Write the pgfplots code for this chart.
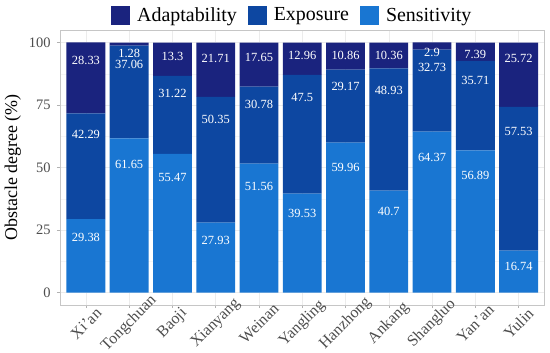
\documentclass[border=0pt]{standalone}
\usepackage{pgfplots}
\pgfplotsset{compat=1.18}
\usepackage{pgfplotstable}
\usepackage{fontspec}
\setmainfont{Liberation Serif}
\definecolor{cAda}{HTML}{1A237E}
\definecolor{cExp}{HTML}{0D47A1}
\definecolor{cSen}{HTML}{1976D2}
\definecolor{tickgrey}{HTML}{4D4D4D}

\pgfplotstableread{
x sen exp ada
1 29.38 42.29 28.33
2 61.65 37.06 1.28
3 55.47 31.22 13.30
4 27.93 50.35 21.71
5 51.56 30.78 17.65
6 39.53 47.50 12.96
7 59.96 29.17 10.86
8 40.70 48.93 10.36
9 64.37 32.73 2.90
10 56.89 35.71 7.39
11 16.74 57.53 25.72
}\datatable

\pgfplotstableread{
x y lab
1 92.9 28.33
1 63.2 42.29
1 21.9 29.38
2 95.6 1.28
2 91.2 37.06
2 51.2 61.65
3 94.5 13.3
3 79.5 31.22
3 45.9 55.47
4 93.6 21.71
4 69.2 50.35
4 20.9 27.93
5 94.1 17.65
5 75.2 30.78
5 42.3 51.56
6 94.8 12.96
6 78.1 47.5
6 31.5 39.53
7 94.9 10.86
7 82.3 29.17
7 49.9 59.96
8 94.9 10.36
8 80.8 48.93
8 32.5 40.7
9 95.9 2.9
9 89.9 32.73
9 53.9 64.37
10 95.2 7.39
10 84.9 35.71
10 46.9 56.89
11 93.5 25.72
11 64.5 57.53
11 10.5 16.74
}\labtable

\begin{document}
\begin{tikzpicture}
\begin{axis}[
  at={(0,0)}, anchor=south west,
  scale only axis,
  width=484.5bp, height=275bp,
  xmin=0.4, xmax=11.6, ymin=-5, ymax=105,
  ybar stacked, bar width=0.9,
  axis line style={gray!45, line width=0.6bp},
  xtick={1,...,11},
  xticklabels={Xi'an,Tongchuan,Baoji,Xianyang,Weinan,Yangling,Hanzhong,Ankang,Shangluo,Yan'an,Yulin},
  ytick={0,25,50,75,100},
  minor ytick={12.5,37.5,62.5,87.5},
  grid=both,
  major grid style={gray!15, line width=0.5bp},
  minor grid style={gray!8, line width=0.3bp},
  tick align=outside,
  major tick length=3bp,
  tick style={gray!60, line width=0.5bp},
  xtick pos=bottom, ytick pos=left,
  minor tick length=0pt,
  /pgf/number format/assume math mode=true,
  yticklabel style={font=\fontsize{14.5}{16}\selectfont, text=tickgrey, xshift=-3bp},
  xticklabel style={font=\fontsize{16}{18}\selectfont, text=tickgrey, yshift=-15.5bp, rotate=45, anchor=center},
  ylabel={Obstacle degree (\%)},
  ylabel style={font=\fontsize{18}{20}\selectfont, yshift=1bp},
  legend style={at={(0.5,1)}, anchor=south, draw=none, fill=none,
    legend columns=3, font=\fontsize{20}{22}\selectfont,
    /tikz/every even column/.append style={column sep=9bp},
    /tikz/every odd column/.append style={column sep=5bp},
    xshift=-10bp, yshift=3bp},
  reverse legend,
  legend image code/.code={\fill[#1] (0bp,-9.5bp) rectangle (19bp,9.5bp);},
]
\addplot[fill=cSen, draw=none] table[x=x, y=sen] {\datatable};
\addlegendentry{Sensitivity}
\addplot[fill=cExp, draw=none] table[x=x, y=exp] {\datatable};
\addlegendentry{Exposure}
\addplot[fill=cAda, draw=none] table[x=x, y=ada] {\datatable};
\addlegendentry{Adaptability}
\end{axis}
\begin{axis}[
  at={(0,0)}, anchor=south west,
  scale only axis,
  width=484.5bp, height=275bp,
  xmin=0.4, xmax=11.6, ymin=-5, ymax=105,
  hide axis,
]
\addplot[draw=none, mark=none, nodes near coords, point meta=explicit symbolic,
  nodes near coords align={center},
  every node near coord/.style={text=white, font=\fontsize{12.5}{14}\selectfont, anchor=center, inner sep=0pt}]
  table[x=x, y=y, meta=lab] {\labtable};
\end{axis}
\pgfresetboundingbox
\path (-60bp,-48bp) rectangle (490bp,305bp);
\end{tikzpicture}
\end{document}
